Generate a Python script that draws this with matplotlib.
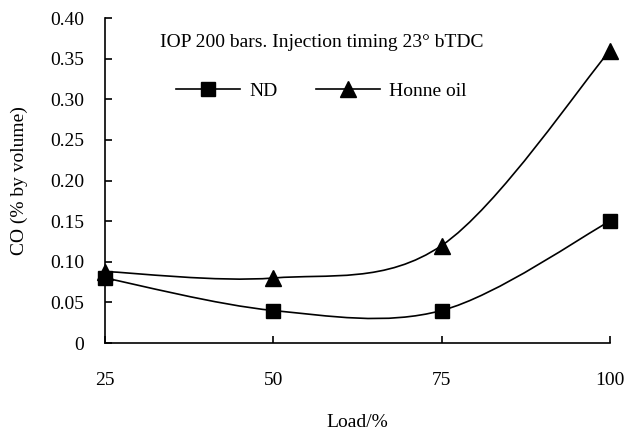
import numpy as np
import matplotlib
matplotlib.use("Agg")
import matplotlib.pyplot as plt
from matplotlib.path import Path
from matplotlib.patches import PathPatch
from matplotlib.lines import Line2D

plt.rcParams['font.family'] = ['Liberation Serif', 'DejaVu Serif']

load = [25, 50, 75, 100]
nd = [0.08, 0.04, 0.04, 0.15]
honne = [0.088, 0.08, 0.12, 0.36]
yticks = [0, 0.05, 0.10, 0.15, 0.20, 0.25, 0.30, 0.35, 0.40]
ytick_labels = ["0", "0.05", "0.10", "0.15", "0.20", "0.25", "0.30", "0.35", "0.40"]
xticks = [25, 50, 75, 100]
title_text = "IOP 200 bars. Injection timing 23° bTDC"


def smooth_path(xs, ys):
    pts = np.column_stack([xs, ys]).astype(float)
    n = len(pts)
    verts = [pts[0]]
    codes = [Path.MOVETO]
    for i in range(n - 1):
        p0 = pts[i - 1] if i > 0 else pts[i]
        p1 = pts[i]
        p2 = pts[i + 1]
        p3 = pts[i + 2] if i + 2 < n else pts[i + 1]
        c1 = p1 + (p2 - p0) / 6.0
        c2 = p2 - (p3 - p1) / 6.0
        verts += [c1, c2, p2]
        codes += [Path.CURVE4] * 3
    return Path(verts, codes)


fig = plt.figure(figsize=(6.26, 4.30), dpi=100)
ax = fig.add_axes([0.1677, 0.2023, 0.8067, 0.7558])

for ys in (nd, honne):
    ax.add_patch(PathPatch(smooth_path(load, ys), facecolor='none',
                           edgecolor='black', lw=1.2, zorder=2))

ax.plot(load, nd, linestyle='none', marker='s', markersize=9.5,
        color='black', zorder=3, clip_on=False)
ax.plot(load, honne, linestyle='none', marker='^', markersize=11.5,
        color='black', zorder=3, clip_on=False)

ax.set_xlim(25, 100)
ax.set_ylim(0, 0.40)
ax.set_xticks(xticks)
ax.set_xticklabels([str(v) for v in xticks])
ax.set_yticks(yticks)
ax.set_yticklabels(ytick_labels)

for s in ('top', 'right'):
    ax.spines[s].set_visible(False)
for s in ('left', 'bottom'):
    ax.spines[s].set_linewidth(1.2)

ax.tick_params(axis='y', direction='in', length=5, width=1.2, pad=15,
               labelsize=14)
ax.tick_params(axis='x', direction='in', length=5, width=1.2, pad=21,
               labelsize=14)

ax.set_xlabel("Load/%", fontsize=14, labelpad=18)
ax.set_ylabel("CO (% by volume)", fontsize=14, labelpad=16)

ax.text(0.109, 0.925, title_text, transform=ax.transAxes, fontsize=14,
        ha='left', va='center')

h1 = Line2D([], [], color='black', lw=1.2, marker='s', markersize=9.5)
h2 = Line2D([], [], color='black', lw=1.2, marker='^', markersize=11.5)
ax.legend([h1, h2], ["ND", "Honne oil"], loc='center left',
          bbox_to_anchor=(0.105, 0.775), ncol=2, frameon=False,
          fontsize=14, handlelength=3.3, columnspacing=1.95,
          handletextpad=0.5)

fig.savefig("out.png", dpi=100)
